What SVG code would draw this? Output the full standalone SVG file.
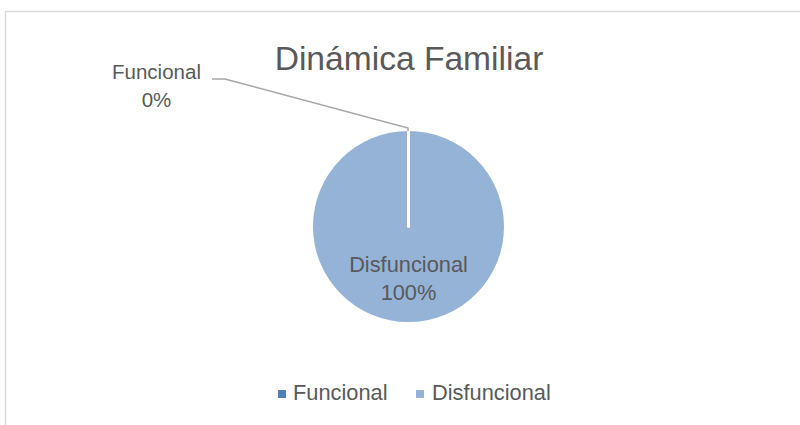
<svg xmlns="http://www.w3.org/2000/svg" width="800" height="425" viewBox="0 0 800 425">
<style>
text{font-family:"Liberation Sans",Arial,sans-serif;fill:#595959}
.lbl{font-size:20.5px}
.big{font-size:21.8px}
.ttl{font-size:33.6px}
</style>
<rect x="0" y="0" width="800" height="425" fill="#fff"/>
<rect x="5.5" y="11.5" width="820" height="430" fill="#fff" stroke="#d9d9d9" stroke-width="1.5"/>
<text class="ttl" x="409" y="70" text-anchor="middle">Dinámica Familiar</text>
<g id="pie">
<g id="disfuncional">
<circle cx="408.5" cy="226.5" r="95.5" fill="#95b3d7"/>
<line x1="408.5" y1="130" x2="408.5" y2="226.5" stroke="#fff" stroke-width="3" stroke-linecap="round"/>
<text class="big" x="408.5" y="272" text-anchor="middle">Disfuncional</text>
<text class="big" x="408.5" y="300" text-anchor="middle">100%</text>
</g>
<g id="funcional">
<text class="lbl" x="156.5" y="79" text-anchor="middle">Funcional</text>
<text class="lbl" x="156.5" y="107" text-anchor="middle">0%</text>
</g>
</g>
<g id="connectors">
<polyline points="212,79 225,79 408,128 408,131" fill="none" stroke="#a6a6a6" stroke-width="1.5"/>
</g>
<g id="legend">
<rect x="278" y="390" width="8" height="8" fill="#4f81bd"/>
<text class="big" x="293" y="400">Funcional</text>
<rect x="416" y="390" width="8" height="8" fill="#95b3d7"/>
<text class="big" x="432" y="400">Disfuncional</text>
</g>
</svg>
